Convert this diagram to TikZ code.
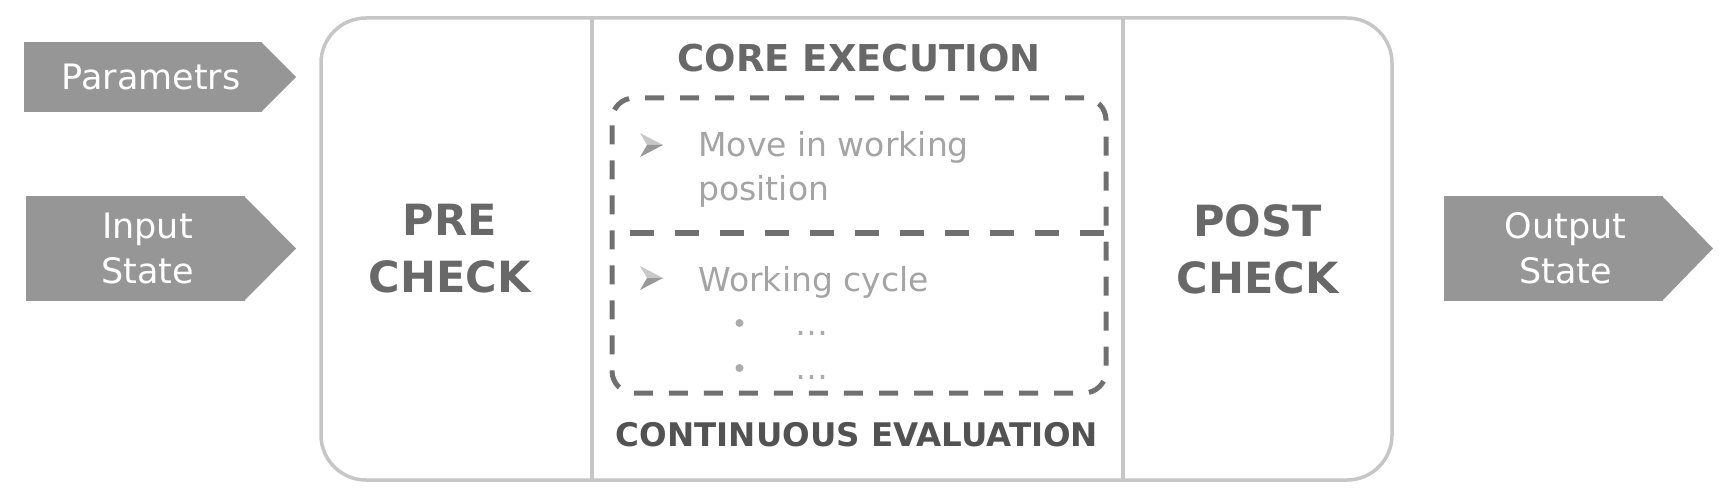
\documentclass[tikz,border=0pt]{standalone}
\usepackage{fontspec}
\setmainfont{DejaVu Sans}
\usepackage{tikz}
\usetikzlibrary{positioning}
\definecolor{sigfill}{HTML}{969696}
\definecolor{framegray}{HTML}{C6C6C6}
\definecolor{dashgray}{HTML}{707070}
\definecolor{headgray}{HTML}{686868}
\definecolor{evalgray}{HTML}{525252}
\definecolor{itemgray}{HTML}{A4A4A4}
\definecolor{marklight}{HTML}{C8C8C8}
\definecolor{markdark}{HTML}{989898}
\definecolor{dotgray}{HTML}{ABABAB}
\tikzset{every picture/.style={
  line join=round               % Round joins everywhere.
  }
}

\begin{document}
\begin{tikzpicture}[
    x=0.5pt, y=-0.5pt,
    col/.style={
      minimum width=#1,
      minimum height=231pt,
      inner sep=0pt,
      outer sep=0pt
    },
    chk/.style={
      align=center,
      inner sep=0pt,
      text=headgray,
      font=\bfseries\fontsize{21.5}{28.5}\selectfont
    },
    sig/.style={
      fill=sigfill,
      minimum width=#1,
      inner sep=0pt,
      outer sep=0pt
    },
    siglbl/.style={
      text=white,
      align=center,
      inner sep=0pt,
      font=\fontsize{17.5}{22.5}\selectfont
    },
    frameline/.style={draw=framegray, line width=1.75pt},
    dashline/.style={draw=dashgray, line width=2.5pt, dash pattern=on 9.5pt off 8pt},
    item/.style={
      anchor=base west,
      text=itemgray,
      inner sep=0pt,
      font=\fontsize{16.5}{22}\selectfont
    },
    dot/.style={circle, fill=dotgray, minimum size=4pt, inner sep=0pt}
  ]

  \useasboundingbox (0,0) rectangle (1733,502);

  % Draw the input and output arrows.
  \node[sig=119pt, minimum height=35pt] (par) at (143,77) {};
  \node[sig=109.5pt, minimum height=52.5pt] (inp) at (135.5,248.5) {};
  \node[sig=109.5pt, minimum height=52.5pt] (outp) at (1553.5,248.5) {};
  \foreach \s/\t in {par/17pt,inp/25.5pt,outp/25pt} {
    \fill[sigfill] ([xshift=-0.5pt]\s.north east) -- ([xshift=\t]\s.east)
      -- ([xshift=-0.5pt]\s.south east) -- cycle;
  }
  \node[siglbl] (parlbl) at ([xshift=4pt]par.center) {Parametrs};
  \node[siglbl] (inplbl) at ([xshift=6pt]inp.center) {Input\\State};
  \node[siglbl] (outplbl) at ([xshift=6pt]outp.center) {Output\\State};

  % Draw the three columns of the frame.
  \node[col=135.5pt] (pre) at (456.5,249) {};
  \node[col=265.5pt, right=0pt of pre] (core) {};
  \node[col=134.5pt, right=0pt of core] (post) {};

  \draw[frameline, rounded corners=22.5pt] (pre.north west) rectangle (post.south east);
  \draw[frameline] (core.north west) -- (core.south west);
  \draw[frameline] (core.north east) -- (core.south east);

  \node[chk] (prelbl) at ([xshift=-3.5pt]pre.center) {PRE\\CHECK};
  \node[chk] (postlbl) at (post.center) {POST\\CHECK};

  % Label the core column.
  \node[text=headgray, font=\bfseries\fontsize{18.5}{22}\selectfont]
    (coretitle) at (859,58.5) {CORE EXECUTION};
  \node[text=evalgray, font=\bfseries\fontsize{16.25}{20}\selectfont]
    (evaltitle) at (857,434.5) {CONTINUOUS EVALUATION};

  % The dashed box of the continuous evaluation.
  \node[dashline, rounded corners=11pt, minimum width=247pt,
    minimum height=147.5pt, inner sep=0pt] (cev) at (859,245.5) {};
  \coordinate (split) at (0,233);
  \draw[dashline, line width=3.25pt, dash pattern=on 12pt off 10.5pt]
    ([xshift=10pt]cev.west |- split) -- (cev.east |- split) -- ++(0,-14);

  % The items inside the box.
  \coordinate (mvmark) at (651,145);
  \coordinate (wcmark) at (651,278);
  \foreach \m in {mvmark,wcmark} {
    \fill[marklight] ([shift={(-11,-12)}]\m) -- ([shift={(12,0)}]\m)
      -- ([shift={(-4,0)}]\m) -- cycle;
    \fill[markdark] ([shift={(-4,0)}]\m) -- ([shift={(12,0)}]\m)
      -- ([shift={(-11,12)}]\m) -- cycle;
  }
  \node[item] (mv) at (698,157) {Move in working};
  \node[item, below=22pt of mv.base west, anchor=base west] (mvpos) {position};
  \node[item] (wc) at (698,292) {Working cycle};
  \node[dot] (d1) at (739.5,323) {};
  \node[dot] (d2) at (739.5,368) {};
  \node[item, text=dotgray] (e1) at (795,335) {…};
  \node[item, text=dotgray] (e2) at (795,379) {…};
\end{tikzpicture}
\end{document}
